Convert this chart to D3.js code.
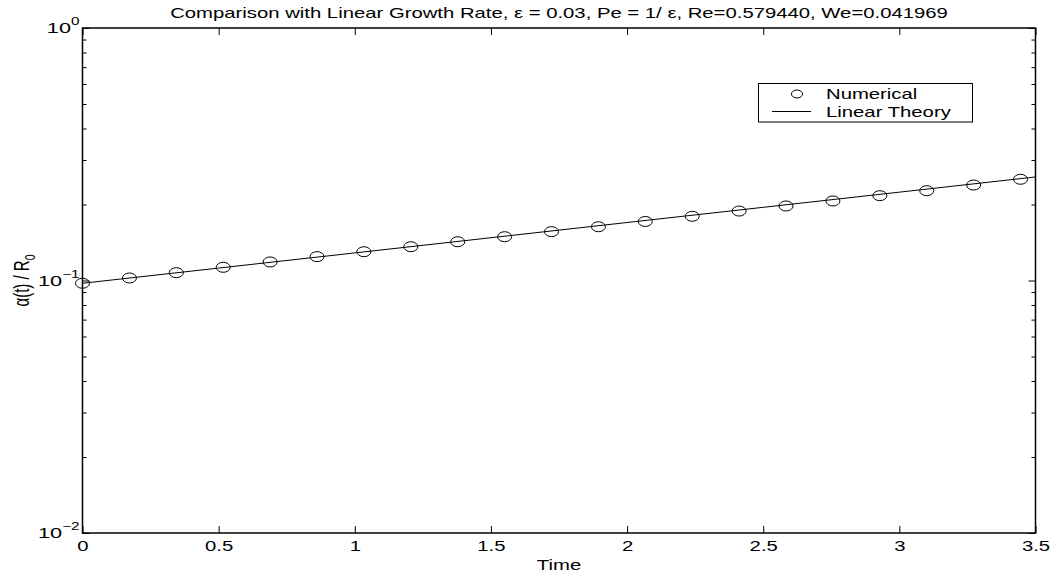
<!DOCTYPE html>
<html>
<head>
<meta charset="utf-8">
<script src="https://cdn.jsdelivr.net/npm/d3@7"></script>
<style>
  html, body { margin: 0; padding: 0; background: #fff; }
  svg { display: block; font-family: "Liberation Sans", Arial, Helvetica, sans-serif; }
</style>
</head>
<body>
<svg id="chart" width="1053" height="575"></svg>
<script>
// ---- data ----
const numTime = [0, 0.1723, 0.3445, 0.5168, 0.689, 0.8613, 1.0335, 1.2058, 1.378, 1.5503, 1.7225,
                 1.8948, 2.067, 2.2393, 2.4115, 2.5838, 2.756, 2.9283, 3.1005, 3.2728, 3.445];
const numValue = [0.0975, 0.1023, 0.1074, 0.1128, 0.1184, 0.1243, 0.1300, 0.1361, 0.1424, 0.1491, 0.1561,
                  0.1633, 0.1713, 0.1796, 0.1884, 0.1973, 0.2065, 0.2167, 0.2268, 0.2388, 0.2517];
const linTime = [0, 0.5, 1, 1.5, 2, 2.5, 3, 3.5];
const linValue = [0.0975, 0.1120, 0.1286, 0.1477, 0.1697, 0.1949, 0.2238, 0.2571];
const xTicks = [0, 0.5, 1, 1.5, 2, 2.5, 3, 3.5];
const xTickLabels = ["0", "0.5", "1", "1.5", "2", "2.5", "3", "3.5"];
const yMajor = [0.01, 0.1, 1];
const yMajorExp = ["−2", "−1", "0"];
const yMinor = [0.02,0.03,0.04,0.05,0.06,0.07,0.08,0.09,0.2,0.3,0.4,0.5,0.6,0.7,0.8,0.9];
const seriesNames = ["Numerical", "Linear Theory"];
const titleText = "Comparison with Linear Growth Rate, ε = 0.03, Pe = 1/ ε, Re=0.579440, We=0.041969";

// ---- layout ----
const SX = 1.45;            // horizontal stretch of the original figure's text
const L = 82.5, R = 1035.5, T = 28, B = 533;
const svg = d3.select("#chart");
const x = d3.scaleLinear().domain([0, 3.5]).range([L, R]);
const y = d3.scaleLog().domain([0.01, 1]).range([B, T]);

// frame
svg.append("rect").attr("x", L).attr("y", T).attr("width", R - L).attr("height", B - T)
  .attr("fill", "none").attr("stroke", "#000").attr("stroke-width", 1.5);

function styleAxis(g) {
  g.select(".domain").remove();
  g.selectAll("line").attr("stroke", "#000").attr("stroke-width", 1);
}
// x ticks bottom/top
const xb = svg.append("g").attr("transform", `translate(0,${B})`)
  .call(d3.axisBottom(x).tickValues(xTicks).tickSizeInner(-7).tickSizeOuter(0)
    .tickPadding(9).tickFormat((d, i) => xTickLabels[i]));
styleAxis(xb);
xb.selectAll("text").attr("font-size", 14).attr("fill", "#000")
  .attr("transform", `scale(${SX},1)`).attr("y", 18).attr("dy", 0);
svg.append("g").attr("transform", `translate(0,${T})`)
  .call(d3.axisTop(x).tickValues(xTicks).tickSizeInner(-7).tickSizeOuter(0).tickFormat(""))
  .call(styleAxis);
// y ticks left/right
svg.append("g").attr("transform", `translate(${L},0)`)
  .call(d3.axisLeft(y).tickValues(yMajor).tickSizeInner(-7).tickSizeOuter(0).tickFormat(""))
  .call(styleAxis);
svg.append("g").attr("transform", `translate(${L},0)`)
  .call(d3.axisLeft(y).tickValues(yMinor).tickSizeInner(-4).tickSizeOuter(0).tickFormat(""))
  .call(styleAxis);
svg.append("g").attr("transform", `translate(${R},0)`)
  .call(d3.axisRight(y).tickValues(yMajor).tickSizeInner(-7).tickSizeOuter(0).tickFormat(""))
  .call(styleAxis);
svg.append("g").attr("transform", `translate(${R},0)`)
  .call(d3.axisRight(y).tickValues(yMinor).tickSizeInner(-4).tickSizeOuter(0).tickFormat(""))
  .call(styleAxis);

// y major labels 10^n
yMajor.forEach((v, i) => {
  const t = svg.append("text").attr("text-anchor", "end").attr("font-size", 15).attr("fill", "#000")
    .attr("transform", `translate(${L - 3},${y(v) + 5}) scale(${SX},1)`);
  t.append("tspan").text("10");
  t.append("tspan").attr("dy", -8).attr("font-size", 10.5).text(yMajorExp[i]);
});

// linear theory line
const line = d3.line().x(d => x(d[0])).y(d => y(d[1]));
svg.append("path").datum(linTime.map((t, i) => [t, linValue[i]]))
  .attr("d", line).attr("fill", "none").attr("stroke", "#000").attr("stroke-width", 1);

// numerical markers
svg.append("g").selectAll("ellipse").data(numTime.map((t, i) => [t, numValue[i]])).join("ellipse")
  .attr("cx", d => x(d[0])).attr("cy", d => y(d[1]))
  .attr("rx", 7).attr("ry", 5)
  .attr("fill", "none").attr("stroke", "#000").attr("stroke-width", 1);

// title
svg.append("text").attr("text-anchor", "middle").attr("font-size", 14).attr("fill", "#000")
  .attr("transform", `translate(${(L + R) / 2},18) scale(${SX},1)`).text(titleText);

// x label
svg.append("text").attr("text-anchor", "middle").attr("font-size", 14).attr("fill", "#000")
  .attr("transform", `translate(${(L + R) / 2},570) scale(${SX},1)`).text("Time");

// y label
const yl = svg.append("text").attr("text-anchor", "middle").attr("font-size", 15).attr("fill", "#000")
  .attr("transform", `translate(29,${(T + B) / 2}) scale(${SX},1) rotate(-90)`);
yl.append("tspan").text("α(t) / R");
yl.append("tspan").attr("dy", 4).attr("font-size", 10.5).text("0");

// legend
const lg = svg.append("g");
lg.append("rect").attr("x", 758.5).attr("y", 83.5).attr("width", 214).attr("height", 38.5)
  .attr("fill", "#fff").attr("stroke", "#000").attr("stroke-width", 1);
lg.append("ellipse").attr("cx", 797).attr("cy", 94).attr("rx", 5.5).attr("ry", 4)
  .attr("fill", "none").attr("stroke", "#000").attr("stroke-width", 1);
lg.append("line").attr("x1", 772).attr("x2", 811).attr("y1", 111.5).attr("y2", 111.5)
  .attr("stroke", "#000").attr("stroke-width", 1);
seriesNames.forEach((s, i) => {
  lg.append("text").attr("font-size", 14).attr("fill", "#000")
    .attr("transform", `translate(826,${99 + i * 17.5}) scale(${SX},1)`).text(s);
});
</script>
</body>
</html>
